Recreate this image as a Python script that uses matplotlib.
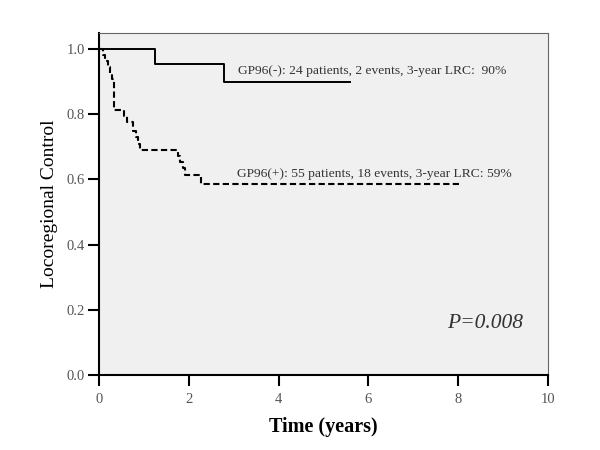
import matplotlib
matplotlib.use("Agg")
import matplotlib.pyplot as plt

# ------------------------------------------------------
# Data
neg_time = [0.0, 1.25, 2.78, 5.6]
neg_surv = [1.0, 0.955, 0.90, 0.90]

pos_time = [0.0, 0.08, 0.13, 0.2, 0.25, 0.3, 0.33, 0.55, 0.62, 0.75, 0.82, 0.86, 0.92,
            1.75, 1.8, 1.88, 1.92, 2.28, 8.06]
pos_surv = [1.0, 0.982, 0.964, 0.945, 0.927, 0.909, 0.812, 0.794, 0.776, 0.748, 0.73, 0.71, 0.69,
            0.672, 0.655, 0.635, 0.615, 0.587, 0.587]

neg_label = "GP96(-): 24 patients, 2 events, 3-year LRC:  90%"
pos_label = "GP96(+): 55 patients, 18 events, 3-year LRC: 59%"
p_label = "P=0.008"

x_ticks = [0, 2, 4, 6, 8, 10]
y_ticks = [0.0, 0.2, 0.4, 0.6, 0.8, 1.0]

# ------------------------------------------------------
# Figure
plt.rcParams['font.family'] = ['Liberation Serif', 'DejaVu Serif']
fig = plt.figure(figsize=(6, 4.5), dpi=100)
ax = fig.add_axes([0.165, 0.167, 0.748, 0.76])
ax.set_facecolor('#f0f0f0')

ax.step(neg_time, neg_surv, where='post', color='black', lw=1.4)
ax.step(pos_time, pos_surv, where='post', color='black', lw=1.5, linestyle=(0, (3, 1.6)))

ax.text(3.1, 0.933, neg_label, fontsize=9.7, color='#333333', va='center')
ax.text(3.08, 0.618, pos_label, fontsize=9.7, color='#333333', va='center')
ax.text(7.75, 0.157, p_label, fontsize=15.5, style='italic', color='#333333', va='center')

ax.set_xlim(0, 10)
ax.set_ylim(0, 1.05)
ax.set_xticks(x_ticks)
ax.set_yticks(y_ticks)
ax.set_yticklabels([f"{v:.1f}" for v in y_ticks])
ax.tick_params(direction='out', length=8, width=1.5, pad=2, labelsize=10.5,
               labelcolor='#555555', color='black')
ax.tick_params(axis='x', pad=5)

for side in ['left', 'bottom']:
    ax.spines[side].set_linewidth(1.5)
    ax.spines[side].set_color('black')
for side in ['top', 'right']:
    ax.spines[side].set_linewidth(0.8)
    ax.spines[side].set_color('#666666')

ax.set_xlabel("Time (years)", fontsize=14.5, fontweight='bold', labelpad=8)
ax.set_ylabel("Locoregional Control", fontsize=14, labelpad=6)

fig.savefig("out.png", dpi=100)
